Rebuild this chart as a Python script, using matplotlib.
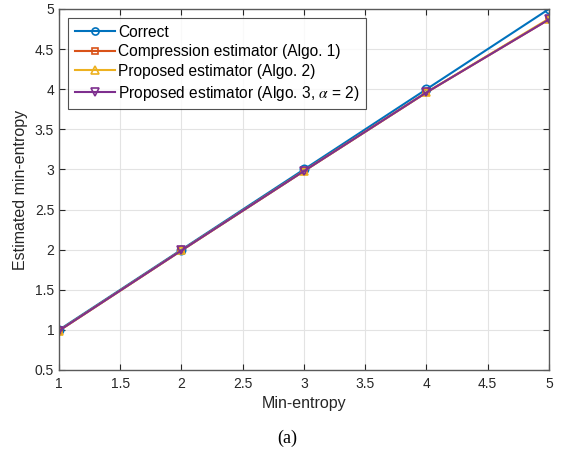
import matplotlib.pyplot as plt

# data
min_entropy = [1, 2, 3, 4, 5]
correct = [1, 2, 3, 4, 5]
compression = [0.99, 1.99, 2.98, 3.96, 4.87]
proposed2 = [0.99, 1.99, 2.98, 3.96, 4.88]
proposed3 = [0.99, 1.99, 2.98, 3.96, 4.87]

plt.rcParams['font.family'] = ['Liberation Sans', 'DejaVu Sans']
plt.rcParams['mathtext.fontset'] = 'stix'

fig = plt.figure(figsize=(5.74, 4.5), dpi=100)
ax = fig.add_axes([0.1028, 0.1778, 0.8536, 0.8022])

ax.plot(min_entropy, correct, color='#0072BD', marker='o', markersize=6,
        markerfacecolor='none', markeredgewidth=1.2, linewidth=1.5, label='Correct')
ax.plot(min_entropy, compression, color='#D95319', marker='s', markersize=5,
        markerfacecolor='none', markeredgewidth=1.2, linewidth=1.5,
        label='Compression estimator (Algo. 1)')
ax.plot(min_entropy, proposed2, color='#EDB120', marker='^', markersize=6,
        markerfacecolor='none', markeredgewidth=1.2, linewidth=1.5,
        label='Proposed estimator (Algo. 2)')
ax.plot(min_entropy, proposed3, color='#7E2F8E', marker='v', markersize=6,
        markerfacecolor='none', markeredgewidth=1.2, linewidth=1.5,
        label=r'Proposed estimator (Algo. 3, $\alpha$ = 2)')

ax.set_xlim(1, 5)
ax.set_ylim(0.5, 5)
ax.set_xticks([1, 1.5, 2, 2.5, 3, 3.5, 4, 4.5, 5])
ax.set_xticklabels(['1', '1.5', '2', '2.5', '3', '3.5', '4', '4.5', '5'])
ax.set_yticks([0.5, 1, 1.5, 2, 2.5, 3, 3.5, 4, 4.5, 5])
ax.set_yticklabels(['0.5', '1', '1.5', '2', '2.5', '3', '3.5', '4', '4.5', '5'])
ax.grid(True, color='#e3e3e3', linewidth=0.8)
ax.set_axisbelow(True)
ax.tick_params(direction='in', length=4, colors='#262626', labelsize=10,
               top=True, right=True)
ax.tick_params(axis='x', pad=5)
for s in ax.spines.values():
    s.set_color('#5a5a5a')
    s.set_linewidth(1.0)

ax.set_xlabel('Min-entropy', fontsize=11.5, color='#262626', labelpad=4)
ax.set_ylabel('Estimated min-entropy', fontsize=11.5, color='#262626', labelpad=5)

leg = ax.legend(loc='upper left', fontsize=11.2, frameon=True, fancybox=False,
                edgecolor='#262626', borderpad=0.4, labelspacing=0.3,
                handlelength=2.6, handletextpad=0.2, borderaxespad=0.6,
                markerscale=0.85)
leg.get_frame().set_linewidth(0.8)

fig.text(0.5, 0.015, '(a)', fontsize=13, family='Liberation Serif', ha='center')

fig.savefig('out.png', dpi=100)
